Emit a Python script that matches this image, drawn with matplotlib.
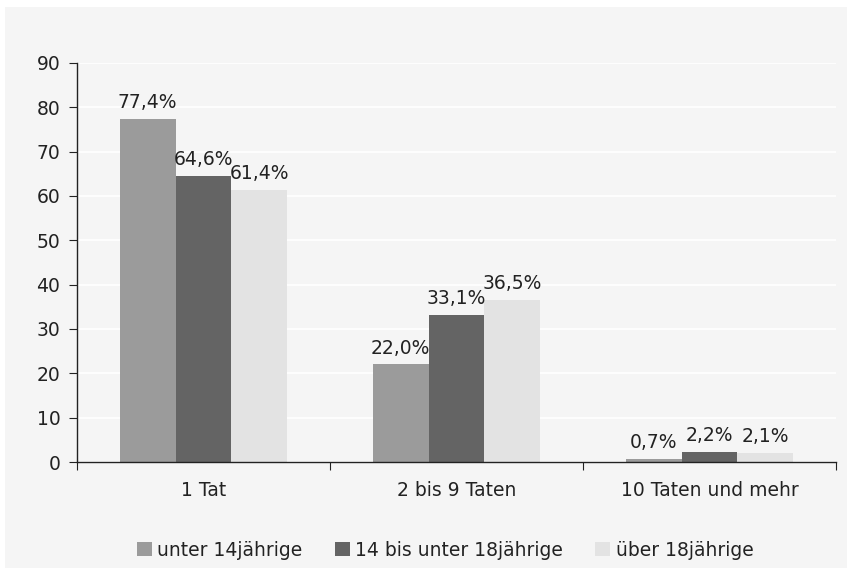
import numpy as np
import matplotlib
matplotlib.use("Agg")
import matplotlib.pyplot as plt
from matplotlib.patches import Rectangle

# data
categories = ['1 Tat', '2 bis 9 Taten', '10 Taten und mehr']
series_names = ['unter 14jährige', '14 bis unter 18jährige', 'über 18jährige']
unter14 = [77.4, 22.0, 0.7]
von14bis18 = [64.6, 33.1, 2.2]
ueber18 = [61.4, 36.5, 2.1]
yticks = [0, 10, 20, 30, 40, 50, 60, 70, 80, 90]

colors = ['#9b9b9b', '#646464', '#e3e3e3']
bg = '#f5f5f5'

plt.rcParams['font.family'] = ['DejaVu Sans']
plt.rcParams['font.size'] = 13.5

W, H = 866, 571
fig = plt.figure(figsize=(W / 100, H / 100), dpi=100, facecolor='white')

# gray chart area
fig.patches.append(Rectangle((5 / W, 3 / H), 842 / W, 561 / H,
                             transform=fig.transFigure, facecolor=bg,
                             edgecolor='none', zorder=-10))

ax = fig.add_axes([77 / W, 109 / H, 759 / W, 399 / H])
ax.set_facecolor(bg)

x = np.arange(len(categories))
width = 0.221
offsets = [-width, 0, width]
all_series = [unter14, von14bis18, ueber18]

for vals, off, col, name in zip(all_series, offsets, colors, series_names):
    bars = ax.bar(x + off, vals, width, color=col, label=name, zorder=3)
    for b, v in zip(bars, vals):
        ax.annotate(f"{v:.1f}%".replace('.', ','),
                    (b.get_x() + b.get_width() / 2, v),
                    xytext=(0, 5), textcoords='offset points',
                    ha='center', va='bottom', color='#222222', zorder=4)

ax.set_ylim(0, 90)
ax.set_yticks(yticks)
ax.set_xlim(-0.5, len(categories) - 0.5)

# boundary ticks, labels in the middle
ax.set_xticks(np.arange(len(categories) + 1) - 0.5)
ax.set_xticklabels([])
ax.set_xticks(x, minor=True)
ax.set_xticklabels(categories, minor=True)
ax.tick_params(axis='x', which='minor', length=0, pad=14)
ax.tick_params(axis='x', which='major', length=6, color='#222222', direction='out')
ax.tick_params(axis='y', length=6, color='#222222', pad=6, labelcolor='#222222')
ax.tick_params(axis='x', labelcolor='#222222', which='both')

ax.grid(axis='y', color='white', linewidth=1.2, zorder=1)
ax.set_axisbelow(True)
for s in ['top', 'right']:
    ax.spines[s].set_visible(False)
for s in ['left', 'bottom']:
    ax.spines[s].set_color('#222222')
    ax.spines[s].set_linewidth(1.0)
    ax.spines[s].set_zorder(5)

handles, labels = ax.get_legend_handles_labels()
fig.legend(handles, labels, loc='center', bbox_to_anchor=(445 / W, 1 - 550 / H),
           ncol=3, frameon=False, handlelength=0.8, handleheight=0.8,
           handletextpad=0.3, columnspacing=1.7, labelcolor='#222222')

fig.savefig('out.png', dpi=100, facecolor='white')
